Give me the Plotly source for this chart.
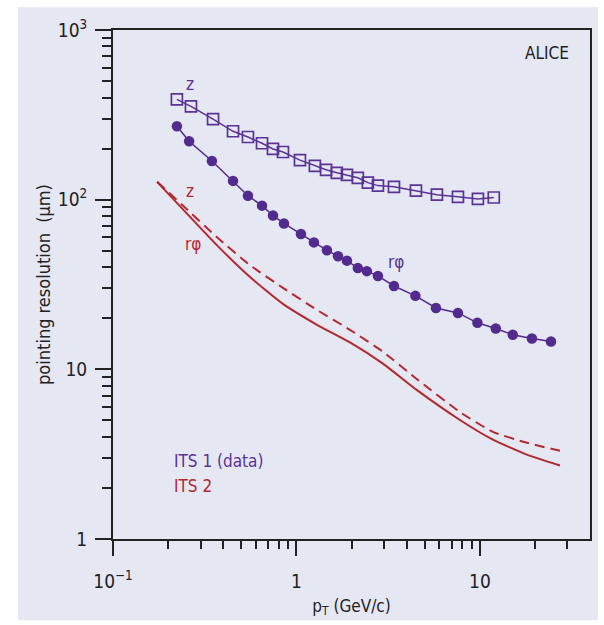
import plotly.graph_objects as go

# ITS 1 (data): longitudinal (z) pointing resolution vs pT
its1_z_pt = [0.223, 0.266, 0.351, 0.451, 0.544, 0.649, 0.745, 0.844, 1.045, 1.26, 1.45,
             1.66, 1.885, 2.16, 2.45, 2.78, 3.40, 4.48, 5.83, 7.59, 9.75, 11.9]
its1_z_res = [390, 355, 298, 253, 234, 215, 199, 191, 171, 158, 150,
              144, 140, 134.5, 126, 121, 119, 113, 107, 104, 101, 103]

# ITS 1 (data): transverse (r-phi) pointing resolution vs pT
its1_rphi_pt = [0.223, 0.260, 0.346, 0.451, 0.544, 0.649, 0.745, 0.855, 1.058, 1.245, 1.466,
                1.684, 1.885, 2.16, 2.42, 2.78, 3.40, 4.45, 5.76, 7.59, 9.69, 12.2, 15.1, 19.2, 24.4]
its1_rphi_res = [271, 221, 169, 129, 105.5, 92.2, 80.6, 72.4, 62.8, 56.0, 50.3,
                 46.4, 43.7, 39.5, 37.9, 35.5, 31.0, 27.1, 23.0, 21.5, 18.8, 17.4, 16.0, 15.2, 14.6]

# ITS 2 (expected): r-phi resolution curve
its2_rphi_pt = [0.174, 0.247, 0.369, 0.558, 0.844, 1.293, 1.957, 2.96, 4.54, 7.78,
                11.77, 18.04, 27.3]
its2_rphi_res = [127.4, 85.1, 53.8, 35.0, 24.3, 18.3, 14.4, 10.8, 7.54, 5.03,
                 3.85, 3.14, 2.71]

# ITS 2 (expected): z resolution curve
its2_z_pt = [0.174, 0.241, 0.369, 0.558, 0.844, 1.293, 1.957, 2.96, 4.54, 7.78,
             11.77, 18.04, 27.3]
its2_z_res = [127.4, 92.2, 60.0, 41.1, 30.2, 22.4, 17.1, 12.7, 8.74, 5.60,
              4.28, 3.69, 3.31]

# Axis ticks
x_major = [0.1, 1, 10]
x_major_text = ["10<sup>−1</sup>", "1", "10"]
x_minor = [0.2, 0.3, 0.4, 0.5, 0.6, 0.7, 0.8, 0.9, 2, 3, 4, 5, 6, 7, 8, 9, 20, 30]
y_major = [1, 10, 100, 1000]
y_major_text = ["1", "10", "10<sup>2</sup>", "10<sup>3</sup>"]
y_minor = [m * d for d in (1, 10, 100) for m in range(2, 10)]

PURPLE = "#5a3394"
PURPLE_DOT = "#532a8e"
RED = "#b3282d"
BG = "#e5e7f3"
INK = "#222222"
FONT = "DejaVu Sans Condensed, Liberation Sans Narrow, Liberation Sans, Arial, sans-serif"

W, H = 604, 625
ML, MR, MT, MB = 113, 14, 30, 82
PW, PH = W - ML - MR, H - MT - MB


def px_x(p):
    return (p - ML) / PW


def px_y(p):
    return (H - MB - p) / PH


fig = go.Figure()

fig.add_trace(go.Scatter(
    x=its2_rphi_pt, y=its2_rphi_res, mode="lines",
    line=dict(color=RED, width=2, shape="spline", smoothing=0.5),
    showlegend=False, hoverinfo="skip"))
fig.add_trace(go.Scatter(
    x=its2_z_pt, y=its2_z_res, mode="lines",
    line=dict(color=RED, width=2, dash="10px,6px", shape="spline", smoothing=0.5),
    showlegend=False, hoverinfo="skip"))
fig.add_trace(go.Scatter(
    x=its1_z_pt, y=its1_z_res, mode="lines+markers",
    line=dict(color=PURPLE, width=1.5),
    marker=dict(symbol="square-open", size=11, color=PURPLE, line=dict(width=1.7, color=PURPLE)),
    showlegend=False, hoverinfo="skip"))
fig.add_trace(go.Scatter(
    x=its1_rphi_pt, y=its1_rphi_res, mode="lines+markers",
    line=dict(color=PURPLE_DOT, width=1.5),
    marker=dict(symbol="circle", size=10.5, color=PURPLE_DOT),
    showlegend=False, hoverinfo="skip"))

axis_common = dict(
    type="log", showgrid=False, zeroline=False,
    showline=True, linecolor=INK, linewidth=2, mirror=True,
    ticks="outside", tickcolor=INK, tickwidth=1.8,
    tickfont=dict(family=FONT, size=19, color=INK),
)

fig.update_xaxes(
    **axis_common, range=[-1, 1.6], tickmode="array",
    tickvals=x_major, ticktext=x_major_text, ticklen=15,
    ticklabelstandoff=9,
    minor=dict(tickmode="array", tickvals=x_minor, ticks="outside", ticklen=8,
               tickwidth=1.6, tickcolor=INK, showgrid=False),
    title=dict(text="p<sub>T</sub> (GeV/c)", font=dict(family=FONT, size=17, color=INK),
               standoff=9),
)
fig.update_yaxes(
    **axis_common, range=[0, 3], tickmode="array",
    tickvals=y_major, ticktext=y_major_text, ticklen=16,
    ticklabelstandoff=4,
    minor=dict(tickmode="array", tickvals=y_minor, ticks="outside", ticklen=9,
               tickwidth=1.6, tickcolor=INK, showgrid=False),
    title=dict(text="pointing resolution&nbsp;&nbsp;(µm)",
               font=dict(family=FONT, size=18, color=INK), standoff=3),
)

annotations = [
    dict(x=px_x(190), y=px_y(84), text="z", color=PURPLE, size=17, anchor="center"),
    dict(x=px_x(396), y=px_y(264), text="rφ", color=PURPLE, size=17, anchor="center"),
    dict(x=px_x(190), y=px_y(192), text="z", color=RED, size=17, anchor="center"),
    dict(x=px_x(193), y=px_y(246), text="rφ", color=RED, size=17, anchor="center"),
    dict(x=px_x(547), y=px_y(53), text="ALICE", color=INK, size=17, anchor="center"),
    dict(x=px_x(172), y=px_y(464), text="ITS 1 (data)", color=PURPLE, size=17, anchor="left"),
    dict(x=px_x(172), y=px_y(490), text="ITS 2", color=RED, size=17, anchor="left"),
]
fig.update_layout(annotations=[
    dict(xref="paper", yref="paper", x=a["x"], y=a["y"], text=a["text"], showarrow=False,
         xanchor=a["anchor"], yanchor="middle",
         font=dict(family=FONT, size=a["size"], color=a["color"]))
    for a in annotations
])

# lavender panel behind the whole chart, leaving a thin white border top/left/right
fig.add_shape(type="rect", xref="paper", yref="paper", layer="below",
              x0=px_x(18), x1=px_x(598), y0=px_y(625), y1=px_y(7),
              fillcolor=BG, line=dict(width=0))

fig.update_layout(
    width=W, height=H,
    margin=dict(l=ML, r=MR, t=MT, b=MB, pad=0),
    paper_bgcolor="white", plot_bgcolor=BG,
    showlegend=False,
)

fig.write_html("out.html")
